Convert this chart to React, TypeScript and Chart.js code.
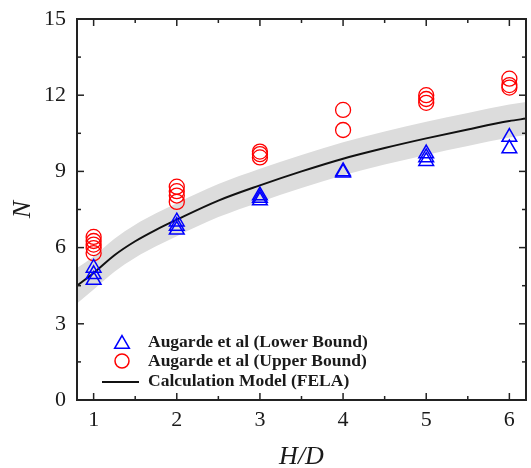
import React, { useEffect, useRef } from 'react';
import { Chart, registerables } from 'chart.js';

Chart.register(...registerables);

// Augarde et al (Lower Bound)
const lowerX = [1, 1, 1, 2, 2, 2, 3, 3, 3, 4, 4, 5, 5, 5, 6, 6];
const lowerN = [5.2, 4.95, 4.72, 7.02, 6.85, 6.7, 8.05, 7.95, 7.85, 9.0, 8.95, 9.7, 9.55, 9.4, 10.35, 9.9];
// Augarde et al (Upper Bound)
const upperX = [1, 1, 1, 1, 1, 2, 2, 2, 2, 3, 3, 3, 4, 4, 5, 5, 5, 6, 6, 6];
const upperN = [6.42, 6.26, 6.12, 5.98, 5.78, 8.4, 8.22, 8.05, 7.8, 9.78, 9.68, 9.55, 11.42, 10.63, 12.0, 11.85, 11.7, 12.65, 12.4, 12.3];
// Calculation Model (FELA) and its shaded band
const modelX = [0.8, 1, 1.25, 1.5, 1.75, 2, 2.5, 3, 3.5, 4, 4.5, 5, 5.5, 6, 6.2];
const modelN = [4.5, 5.0, 5.7, 6.25, 6.7, 7.1, 7.85, 8.45, 9.0, 9.5, 9.92, 10.3, 10.65, 10.98, 11.08];
const bandUpperN = [5.2, 5.65, 6.35, 6.9, 7.35, 7.75, 8.5, 9.1, 9.65, 10.15, 10.57, 10.95, 11.3, 11.63, 11.73];
const bandLowerN = [3.8, 4.35, 5.05, 5.6, 6.05, 6.45, 7.2, 7.8, 8.35, 8.85, 9.27, 9.65, 10.0, 10.33, 10.43];

const xTicks = [1, 2, 3, 4, 5, 6];
const yTicks = [0, 3, 6, 9, 12, 15];
const xMinorTicks = [1.5, 2.5, 3.5, 4.5, 5.5];
const yMinorTicks = [1.5, 4.5, 7.5, 10.5, 13.5];

const legendLabels = [
  'Augarde et al (Lower Bound)',
  'Augarde et al (Upper Bound)',
  'Calculation Model (FELA)',
];

const SERIF = "'Liberation Serif', 'Times New Roman', 'DejaVu Serif', serif";
const INK = '#1a1a1a';

const pts = (xs: number[], ys: number[]) => xs.map((x, i) => ({ x, y: ys[i] }));

function triPath(ctx: CanvasRenderingContext2D, x: number, y: number, r: number) {
  ctx.beginPath();
  for (let k = 0; k < 3; k++) {
    const a = (k * 2 * Math.PI) / 3;
    const px = x + Math.sin(a) * r;
    const py = y - Math.cos(a) * r;
    if (k === 0) ctx.moveTo(px, py);
    else ctx.lineTo(px, py);
  }
  ctx.closePath();
}

const framePlugin = {
  id: 'frame',
  afterDatasetsDraw(chart: any) {
    const { ctx, chartArea, scales } = chart;
    const { left, right, top, bottom } = chartArea;
    const xs = scales.x;
    const ys = scales.y;
    ctx.save();
    ctx.strokeStyle = '#222';
    ctx.lineWidth = 1.5;
    const tick = (x1: number, y1: number, x2: number, y2: number) => {
      ctx.beginPath();
      ctx.moveTo(x1, y1);
      ctx.lineTo(x2, y2);
      ctx.stroke();
    };
    xTicks.forEach((v) => {
      const p = xs.getPixelForValue(v);
      tick(p, bottom, p, bottom - 7);
      tick(p, top, p, top + 7);
    });
    xMinorTicks.forEach((v) => {
      const p = xs.getPixelForValue(v);
      tick(p, bottom, p, bottom - 4);
      tick(p, top, p, top + 4);
    });
    yTicks.forEach((v) => {
      const p = ys.getPixelForValue(v);
      tick(left, p, left + 7, p);
      tick(right, p, right - 7, p);
    });
    yMinorTicks.forEach((v) => {
      const p = ys.getPixelForValue(v);
      tick(left, p, left + 4, p);
      tick(right, p, right - 4, p);
    });
    ctx.lineWidth = 2;
    ctx.strokeRect(left, top, right - left, bottom - top);
    ctx.restore();
  },
  afterDraw(chart: any) {
    const { ctx } = chart;
    ctx.save();
    const rows = [342, 361, 381];
    const mx = 122;
    ctx.strokeStyle = '#0000ff';
    ctx.lineWidth = 1.5;
    triPath(ctx, mx, rows[0] + 2, 8.5);
    ctx.stroke();
    ctx.strokeStyle = '#ff0000';
    ctx.beginPath();
    ctx.arc(mx, rows[1], 7, 0, Math.PI * 2);
    ctx.stroke();
    ctx.strokeStyle = '#111';
    ctx.lineWidth = 2;
    ctx.beginPath();
    ctx.moveTo(102, rows[2] + 1);
    ctx.lineTo(139, rows[2] + 1);
    ctx.stroke();
    ctx.fillStyle = INK;
    ctx.font = `bold 17.5px ${SERIF}`;
    ctx.textBaseline = 'middle';
    ctx.textAlign = 'left';
    legendLabels.forEach((t, i) => ctx.fillText(t, 148, rows[i]));
    ctx.restore();
  },
};

export default function App() {
  const ref = useRef<HTMLCanvasElement>(null);

  useEffect(() => {
    if (!ref.current) return;
    const chart = new Chart(ref.current, {
      type: 'scatter',
      data: {
        datasets: [
          {
            label: legendLabels[0],
            data: pts(lowerX, lowerN),
            pointStyle: 'triangle',
            pointRadius: 8.5,
            borderColor: '#0000ff',
            backgroundColor: 'rgba(0,0,0,0)',
            borderWidth: 1.5,
          },
          {
            label: legendLabels[1],
            data: pts(upperX, upperN),
            pointStyle: 'circle',
            pointRadius: 7.5,
            borderColor: '#ff0000',
            backgroundColor: 'rgba(0,0,0,0)',
            borderWidth: 1.3,
          },
          {
            label: legendLabels[2],
            data: pts(modelX, modelN),
            showLine: true,
            pointRadius: 0,
            borderColor: '#111111',
            borderWidth: 2,
            cubicInterpolationMode: 'monotone',
            fill: false,
          },
          {
            label: 'band upper',
            data: pts(modelX, bandUpperN),
            showLine: true,
            pointRadius: 0,
            borderColor: 'rgba(0,0,0,0)',
            borderWidth: 0,
            backgroundColor: '#dcdcdc',
            cubicInterpolationMode: 'monotone',
            fill: '+1',
          },
          {
            label: 'band lower',
            data: pts(modelX, bandLowerN),
            showLine: true,
            pointRadius: 0,
            borderColor: 'rgba(0,0,0,0)',
            borderWidth: 0,
            cubicInterpolationMode: 'monotone',
            fill: false,
          },
        ] as any,
      },
      options: {
        responsive: false,
        animation: false,
        devicePixelRatio: 1,
        layout: { autoPadding: false, padding: { top: 19, right: 5, left: 0, bottom: 0 } },
        plugins: {
          legend: { display: false },
          tooltip: { enabled: false },
          filler: { drawTime: 'beforeDatasetsDraw' },
        } as any,
        scales: {
          x: {
            type: 'linear',
            min: 0.8,
            max: 6.2,
            grid: { display: false, drawTicks: false, tickLength: 0 },
            border: { display: false },
            afterBuildTicks: (s: any) => {
              s.ticks = xTicks.map((v) => ({ value: v }));
            },
            afterFit: (s: any) => {
              s.height = 68;
              s.paddingLeft = 0;
              s.paddingRight = 0;
            },
            ticks: {
              padding: 0,
              color: INK,
              font: { family: SERIF, size: 22, lineHeight: 1.8 },
              callback: (v: any) => String(v),
            },
            title: {
              display: true,
              text: 'H/D',
              color: INK,
              font: { family: SERIF, size: 26, style: 'italic', lineHeight: 0.85 },
              padding: { top: 0, bottom: 0 },
            },
          },
          y: {
            type: 'linear',
            min: 0,
            max: 15,
            grid: { display: false, drawTicks: false, tickLength: 0 },
            border: { display: false },
            afterBuildTicks: (s: any) => {
              s.ticks = yTicks.map((v) => ({ value: v }));
            },
            afterFit: (s: any) => {
              s.width = 77;
              s.paddingTop = 0;
              s.paddingBottom = 0;
            },
            ticks: {
              padding: 11,
              color: INK,
              font: { family: SERIF, size: 22, lineHeight: 0.5 },
              callback: (v: any) => String(v),
            },
            title: {
              display: true,
              text: 'N',
              color: INK,
              font: { family: SERIF, size: 26, style: 'italic', lineHeight: 1 },
              padding: { top: 10, bottom: 0 },
            },
          },
        } as any,
      },
      plugins: [framePlugin],
    });
    return () => chart.destroy();
  }, []);

  return (
    <div style={{ position: 'fixed', left: 0, top: 0, width: 531, height: 468, background: '#fff' }}>
      <canvas ref={ref} width={531} height={468} />
    </div>
  );
}
